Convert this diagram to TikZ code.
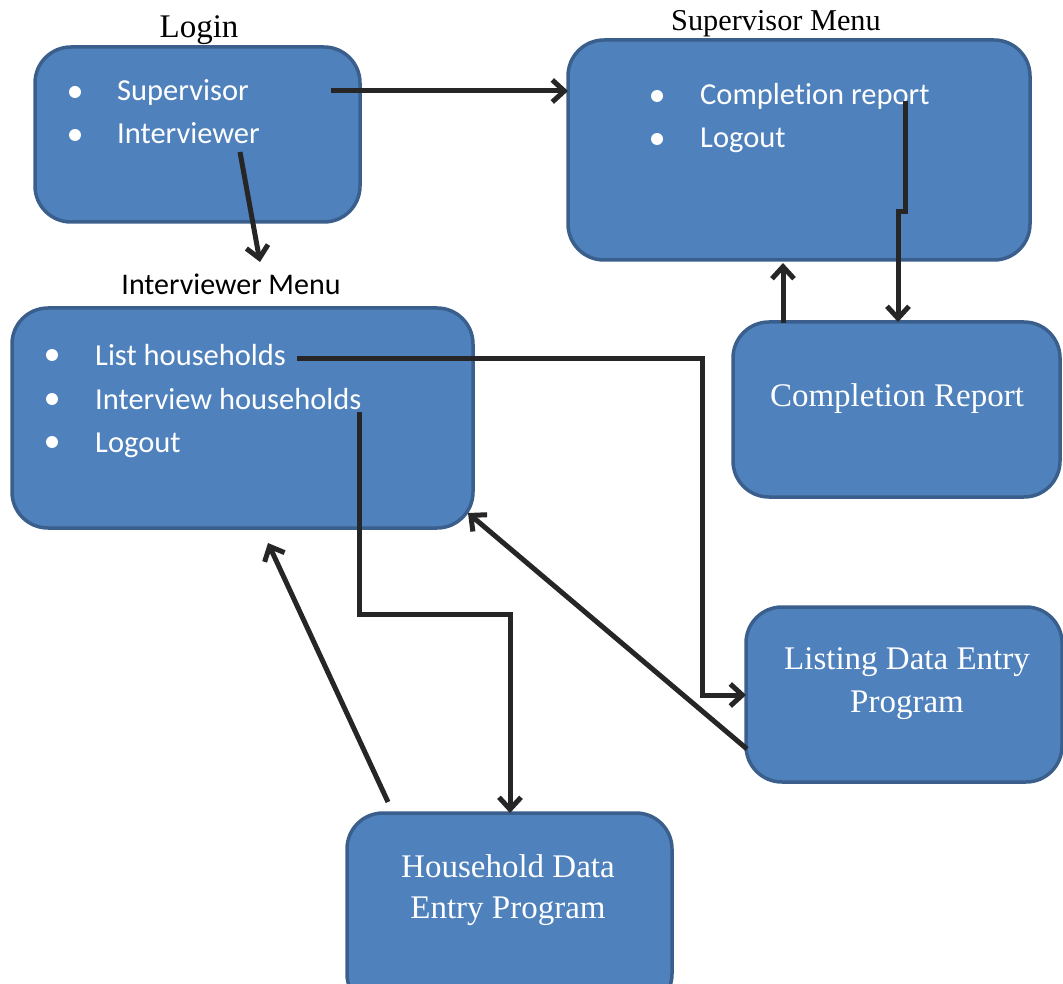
\documentclass[tikz,border=0pt]{standalone}
\usepackage{fontspec}
\setmainfont{Liberation Serif}
\newfontfamily\calib[Ligatures=NoCommon]{Carlito}
\usetikzlibrary{arrows.meta}
\definecolor{boxfill}{HTML}{4F81BD}
\definecolor{boxline}{HTML}{3A5F8C}
\definecolor{arr}{HTML}{262626}
\tikzset{
  box/.style={draw=boxline, fill=boxfill, line width=3.5pt, rounded corners=36pt},
  conn/.style={draw=arr, line width=5pt, -{Straight Barb[length=12pt,width=22pt,line width=5pt]}},
  ttl/.style={font=\fontsize{30}{36}\selectfont, text=black, anchor=base, inner sep=0pt},
  ittl/.style={font=\calib\fontsize{30}{36}\selectfont, text=black, anchor=base, inner sep=0pt},
  item/.style={font=\calib\fontsize{30.5}{36}\selectfont, text=white, anchor=base west, inner sep=0pt},
  btxt/.style={font=\fontsize{33}{40}\selectfont, text=white, anchor=base, inner sep=0pt},
  dot/.style={circle, fill=white, inner sep=0pt, minimum size=12pt}
}
\begin{document}
\begin{tikzpicture}[x=1pt,y=-1pt]
\useasboundingbox (0,0) rectangle (1063,984);
\clip (0,0) rectangle (1063,984);
% boxes
\path[box] (35,47) rectangle (360,222);
\path[box] (568,40) rectangle (1030,260);
\path[box] (12,308) rectangle (473,528);
\path[box] (733,322) rectangle (1060,497);
\path[box] (746,607) rectangle (1062,782);
\path[box] (347,813) rectangle (672,1010);
% titles
\node[ttl, font=\fontsize{33}{40}\selectfont] (tlogin) at (199,38) {Login};
\node[ttl, font=\fontsize{30.3}{36}\selectfont] (tsup) at (776,31) {Supervisor Menu};
\node[ittl] (tint) at (231,295) {Interviewer Menu};
% login items
\node[dot] (b1) at (75,92) {}; \node[item] (supervisor) at (117,101) {Supervisor};
\node[dot] (b2) at (75,135) {}; \node[item] (interviewer) at (117,144) {Interviewer};
% supervisor menu items
\node[dot] (b3) at (657,96) {}; \node[item] (compr) at (700,105) {Completion report};
\node[dot] (b4) at (657,139) {}; \node[item] (slogout) at (700,148) {Logout};
% interviewer menu items
\node[dot] (b5) at (52,355) {}; \node[item] (listh) at (95,365) {List households};
\node[dot] (b6) at (52,399) {}; \node[item] (inth) at (95,409) {Interview households};
\node[dot] (b7) at (52,442) {}; \node[item] (ilogout) at (95,452) {Logout};
% box texts
\node[btxt] (crep) at (897,406) {Completion Report};
\node[btxt] (lde1) at (907,669) {Listing Data Entry};
\node[btxt] (lde2) at (907,712) {Program};
\node[btxt] (hde1) at (508,877) {Household Data};
\node[btxt] (hde2) at (508,918) {Entry Program};
% connector coordinates
\coordinate (a1s) at (331,91); \coordinate (a1e) at (568,91);
\coordinate (a2s) at (240,152); \coordinate (a2e) at (260,262);
\coordinate (a3s) at (905,101); \coordinate (a3m1) at (905,212); \coordinate (a3m2) at (898,212); \coordinate (a3e) at (898,322);
\coordinate (a4s) at (783,323); \coordinate (a4e) at (783,263);
\coordinate (a5s) at (297,358); \coordinate (a5m1) at (702,358); \coordinate (a5m2) at (702,695); \coordinate (a5e) at (746,695);
\coordinate (a6s) at (359,412); \coordinate (a6m1) at (359,614); \coordinate (a6m2) at (510,614); \coordinate (a6e) at (510,813);
\coordinate (a7s) at (388,802); \coordinate (a7e) at (268,543);
\coordinate (a8s) at (747,749); \coordinate (a8e) at (468,513);
% connectors
\draw[conn] (a1s) -- (a1e);
\draw[conn] (a2s) -- (a2e);
\draw[conn] (a3s) -- (a3m1) -- (a3m2) -- (a3e);
\draw[conn] (a4s) -- (a4e);
\draw[conn] (a5s) -- (a5m1) -- (a5m2) -- (a5e);
\draw[conn] (a6s) -- (a6m1) -- (a6m2) -- (a6e);
\draw[conn] (a7s) -- (a7e);
\draw[conn] (a8s) -- (a8e);
\end{tikzpicture}
\end{document}
